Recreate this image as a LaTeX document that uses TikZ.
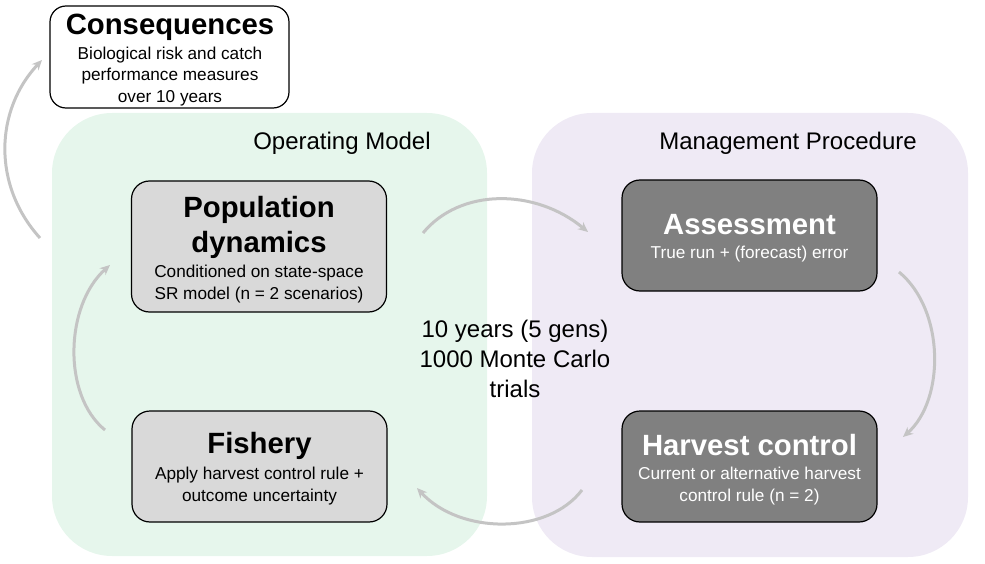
\documentclass[tikz,border=0pt]{standalone}
\usepackage{fontspec}
\setmainfont{Liberation Sans}
\usetikzlibrary{arrows.meta}
\definecolor{omgreen}{HTML}{E6F6EC}
\definecolor{mppurple}{HTML}{EFEAF5}
\definecolor{boxgray}{HTML}{D9D9D9}
\definecolor{boxdark}{HTML}{808080}
\definecolor{arrowgray}{HTML}{C4C4C4}
\tikzset{
  region/.style={draw=none, rounded corners=60pt, inner sep=0pt},
  lightbox/.style={draw=black, line width=1.2pt, fill=boxgray, rounded corners=18pt, inner sep=0pt, minimum width=255pt, minimum height=111pt},
  darkbox/.style={draw=black, line width=1.2pt, fill=boxdark, rounded corners=18pt, inner sep=0pt, minimum width=255pt, minimum height=111pt},
  titletext/.style={font=\fontsize{29.3}{35}\selectfont\bfseries, align=center, inner sep=0pt},
  subtext/.style={font=\fontsize{17.2}{21.5}\selectfont, align=center, inner sep=0pt},
  regionlabel/.style={font=\fontsize{24}{28}\selectfont, inner sep=0pt},
  flow/.style={draw=arrowgray, line width=3pt, -{Stealth[length=10pt,width=9pt]}},
}
\begin{document}
\begin{tikzpicture}[x=1pt,y=-1pt]
\useasboundingbox (0,0) rectangle (985,564);
% regions
\node[region, fill=omgreen, minimum width=435pt, minimum height=443pt] (om) at (269.5,334.5) {};
\node[region, fill=mppurple, minimum width=436pt, minimum height=444pt] (mp) at (750,335) {};
\node[regionlabel] (omlabel) at (342,143) {Operating Model};
\node[regionlabel] (mplabel) at (788,143) {Management Procedure};
% consequences
\node[draw=black, line width=1.2pt, fill=white, rounded corners=16pt, minimum width=239pt, minimum height=102pt, inner sep=0pt] (cons) at (169.5,57) {};
\node[titletext] (constitle) at (170,27) {Consequences};
\node[subtext] (conssub) at (170,76.5) {Biological risk and catch\\performance measures\\over 10 years};
% population dynamics
\node[lightbox, minimum height=131pt] (pop) at (259,246.5) {};
\node[titletext] (poptitle) at (259,227) {Population\\dynamics};
\node[subtext] (popsub) at (259,284) {Conditioned on state-space\\SR model (n = 2 scenarios)};
% fishery
\node[lightbox] (fish) at (259.5,466.5) {};
\node[titletext] (fishtitle) at (259.5,446) {Fishery};
\node[subtext] (fishsub) at (259.5,486) {Apply harvest control rule +\\outcome uncertainty};
% assessment
\node[darkbox] (assess) at (749.5,235.5) {};
\node[titletext, text=white] (assesstitle) at (749.5,225) {Assessment};
\node[subtext, text=white] (assesssub) at (749.5,254) {True run + (forecast) error};
% harvest control
\node[darkbox] (hcr) at (749.5,466.5) {};
\node[titletext, text=white] (hcrtitle) at (749.5,445) {Harvest control};
\node[subtext, text=white] (hcrsub) at (749.5,486) {Current or alternative harvest\\control rule (n = 2)};
% centre text
\node[font=\fontsize{24}{30}\selectfont, align=center, inner sep=0pt] (centre) at (515,359) {10 years (5 gens)\\1000 Monte Carlo\\trials};
% arrows
\coordinate (c1s) at (40,238); \coordinate (c1e) at (42,60);
\coordinate (c2s) at (105,430); \coordinate (c2e) at (110,265);
\coordinate (c3s) at (423,233); \coordinate (c3e) at (588,232);
\coordinate (c4s) at (899,272); \coordinate (c4e) at (903,437);
\coordinate (c5s) at (582,490); \coordinate (c5e) at (417,488);
\draw[flow] (c1s) .. controls (-8,185) and (-5,110) .. (c1e);
\draw[flow] (c2s) .. controls (62,395) and (65,305) .. (c2e);
\draw[flow] (c3s) .. controls (460,188) and (535,188) .. (c3e);
\draw[flow] (c4s) .. controls (945,310) and (945,400) .. (c4e);
\draw[flow] (c5s) .. controls (548,535) and (460,535) .. (c5e);
\end{tikzpicture}
\end{document}
